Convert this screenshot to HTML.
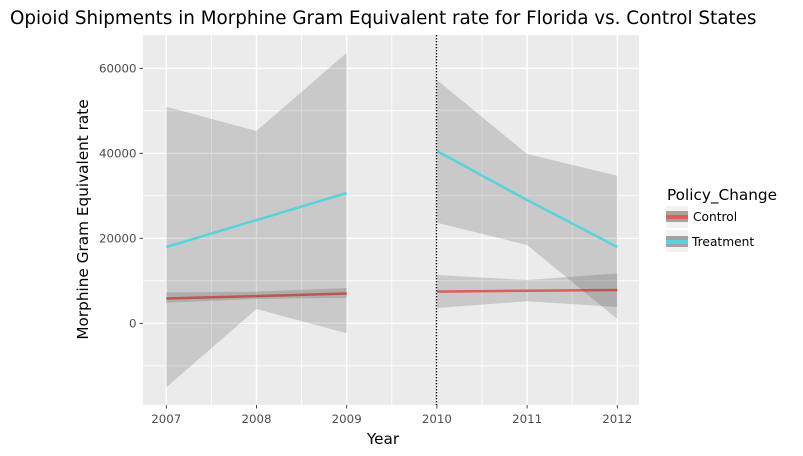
<!DOCTYPE html>
<html lang="en">
<head>
<meta charset="utf-8">
<title>Opioid Shipments</title>
<style>
html,body{margin:0;padding:0;background:#fff;width:803px;height:456px;overflow:hidden}
svg{display:block;font-family:"DejaVu Sans","Liberation Sans",sans-serif}
</style>
</head>
<body>
<svg id="chart" width="803" height="456" viewBox="0 0 803 456" xmlns="http://www.w3.org/2000/svg">
  <rect x="0" y="0" width="803" height="456" fill="#fff"/>
  <rect x="143" y="35" width="496" height="370" fill="#ebebeb"/>
  <g id="grid-minor"></g>
  <g id="grid-major"></g>
  <g id="marks"></g>
  <g id="vline"></g>
  <g id="x-axis"></g>
  <g id="y-axis"></g>
  <text x="10" y="24" font-size="18.33" fill="#000">Opioid Shipments in Morphine Gram Equivalent rate for Florida vs. Control States</text>
  <text x="383" y="444" font-size="15.28" fill="#000" text-anchor="middle">Year</text>
  <text transform="translate(88,219.5) rotate(-90)" font-size="15.28" fill="#000" text-anchor="middle">Morphine Gram Equivalent rate</text>
  <g>
    <text x="667" y="200" font-size="15.28" fill="#000">Policy_Change</text>
    <g>
      <rect x="666" y="206" width="22" height="22" fill="#f2f2f2"/>
      <rect x="666" y="211" width="22" height="11" fill="#a3a3a3"/>
      <rect x="666" y="215" width="22" height="4" fill="#db5f57"/>
      <text x="693" y="221" font-size="12.22" fill="#000">Control</text>
    </g>
    <g>
      <rect x="666" y="230" width="22" height="22" fill="#f2f2f2"/>
      <rect x="666" y="236" width="22" height="11" fill="#a3a3a3"/>
      <rect x="666" y="240" width="22" height="4" fill="#57d3db"/>
      <text x="692" y="246" font-size="12.22" fill="#000">Treatment</text>
    </g>
  </g>
</svg>
<script>
// Tick labels
var xTickYears = [2007, 2008, 2009, 2010, 2011, 2012];
var xMinorYears = [2007.5, 2008.5, 2009.5, 2010.5, 2011.5];
var yTickValues = [0, 20000, 40000, 60000];
var yMinorValues = [-10000, 10000, 30000, 50000];
var policyYear = 2010;

// Pre-policy period (2007-2009)
var preYears = [2007, 2008, 2009];
var preControlMean = [5850, 6400, 7000];
var preControlUpper = [7290, 7440, 8300];
var preControlLower = [4850, 5720, 6000];
var preTreatmentMean = [17950, 24300, 30660];
var preTreatmentUpper = [50960, 45250, 63670];
var preTreatmentLower = [-15060, 3360, -2350];

// Post-policy period (2010-2012)
var postYears = [2010, 2011, 2012];
var postControlMean = [7440, 7670, 7830];
var postControlUpper = [11360, 10190, 11760];
var postControlLower = [3600, 5180, 3830];
var postTreatmentMean = [40540, 29000, 17950];
var postTreatmentUpper = [57250, 39840, 34730];
var postTreatmentLower = [23670, 18420, 1010];

var NS = 'http://www.w3.org/2000/svg';
var panelLeft = 143, panelRight = 639, panelTop = 35, panelBottom = 405;

function xScale(year) { return 166.3 + (year - 2007) * 90.2; }
function yScale(value) { return 323.3 - value * 85 / 20000; }

function make(tag, attrs, parent) {
  var el = document.createElementNS(NS, tag);
  for (var k in attrs) { el.setAttribute(k, attrs[k]); }
  parent.appendChild(el);
  return el;
}

function drawRibbon(years, upper, lower, name, parent) {
  var pts = [];
  years.forEach(function (y, i) { pts.push(xScale(y).toFixed(2) + ',' + yScale(upper[i]).toFixed(2)); });
  for (var i = years.length - 1; i >= 0; i--) { pts.push(xScale(years[i]).toFixed(2) + ',' + yScale(lower[i]).toFixed(2)); }
  var el = make('polygon', { points: pts.join(' '), fill: '#333333', 'fill-opacity': '0.18' }, parent);
  
  
}

function drawLine(years, values, color, name, parent) {
  var pts = years.map(function (y, i) { return xScale(y).toFixed(2) + ',' + yScale(values[i]).toFixed(2); });
  var el = make('polyline', { points: pts.join(' '), fill: 'none', stroke: color, 'stroke-width': '2.5' }, parent);
  
  
}

// Gridlines
var minorG = document.getElementById('grid-minor');
var majorG = document.getElementById('grid-major');
xMinorYears.forEach(function (v) {
  var el = make('line', { x1: xScale(v), x2: xScale(v), y1: panelTop, y2: panelBottom, stroke: '#fff', 'stroke-width': '0.8' }, minorG);
  
  
});
yMinorValues.forEach(function (v) {
  var el = make('line', { x1: panelLeft, x2: panelRight, y1: yScale(v), y2: yScale(v), stroke: '#fff', 'stroke-width': '0.8' }, minorG);
  
  
});
xTickYears.forEach(function (v) {
  var el = make('line', { x1: xScale(v), x2: xScale(v), y1: panelTop, y2: panelBottom, stroke: '#fff', 'stroke-width': '1.4' }, majorG);
  
  
});
yTickValues.forEach(function (v) {
  var el = make('line', { x1: panelLeft, x2: panelRight, y1: yScale(v), y2: yScale(v), stroke: '#fff', 'stroke-width': '1.4' }, majorG);
  
  
});

// Series: each group draws ribbon first, then its line
var marks = document.getElementById('marks');
drawRibbon(preYears, preControlUpper, preControlLower, 'control-ribbon-pre', marks);
drawLine(preYears, preControlMean, '#db5f57', 'control-line-pre', marks);
drawRibbon(preYears, preTreatmentUpper, preTreatmentLower, 'treatment-ribbon-pre', marks);
drawLine(preYears, preTreatmentMean, '#57d3db', 'treatment-line-pre', marks);
drawRibbon(postYears, postControlUpper, postControlLower, 'control-ribbon-post', marks);
drawLine(postYears, postControlMean, '#db5f57', 'control-line-post', marks);
drawRibbon(postYears, postTreatmentUpper, postTreatmentLower, 'treatment-ribbon-post', marks);
drawLine(postYears, postTreatmentMean, '#57d3db', 'treatment-line-post', marks);

// Policy change reference line
var vl = make('line', { x1: xScale(policyYear) - 0.4, x2: xScale(policyYear) - 0.4, y1: panelTop, y2: panelBottom, stroke: '#000', 'stroke-width': '1.4', 'stroke-dasharray': '1.4 1.6' }, document.getElementById('vline'));



// Axes
var xAxis = document.getElementById('x-axis');
var yAxis = document.getElementById('y-axis');
xTickYears.forEach(function (v) {
  var tick = make('line', { x1: xScale(v), x2: xScale(v), y1: panelBottom, y2: panelBottom + 3.5, stroke: '#333', 'stroke-width': '0.9' }, xAxis);
  
  
  var label = make('text', { x: xScale(v), y: 423, 'font-size': '11.8', fill: '#4d4d4d', 'text-anchor': 'middle' }, xAxis);
  
  
  label.textContent = String(v);
});
yTickValues.forEach(function (v) {
  var tick = make('line', { x1: panelLeft - 3.5, x2: panelLeft, y1: yScale(v), y2: yScale(v), stroke: '#333', 'stroke-width': '0.9' }, yAxis);
  
  
  var label = make('text', { x: 136.5, y: yScale(v) + 4.4, 'font-size': '11.8', fill: '#4d4d4d', 'text-anchor': 'end' }, yAxis);
  
  
  label.textContent = String(v);
});
</script>
</body>
</html>
